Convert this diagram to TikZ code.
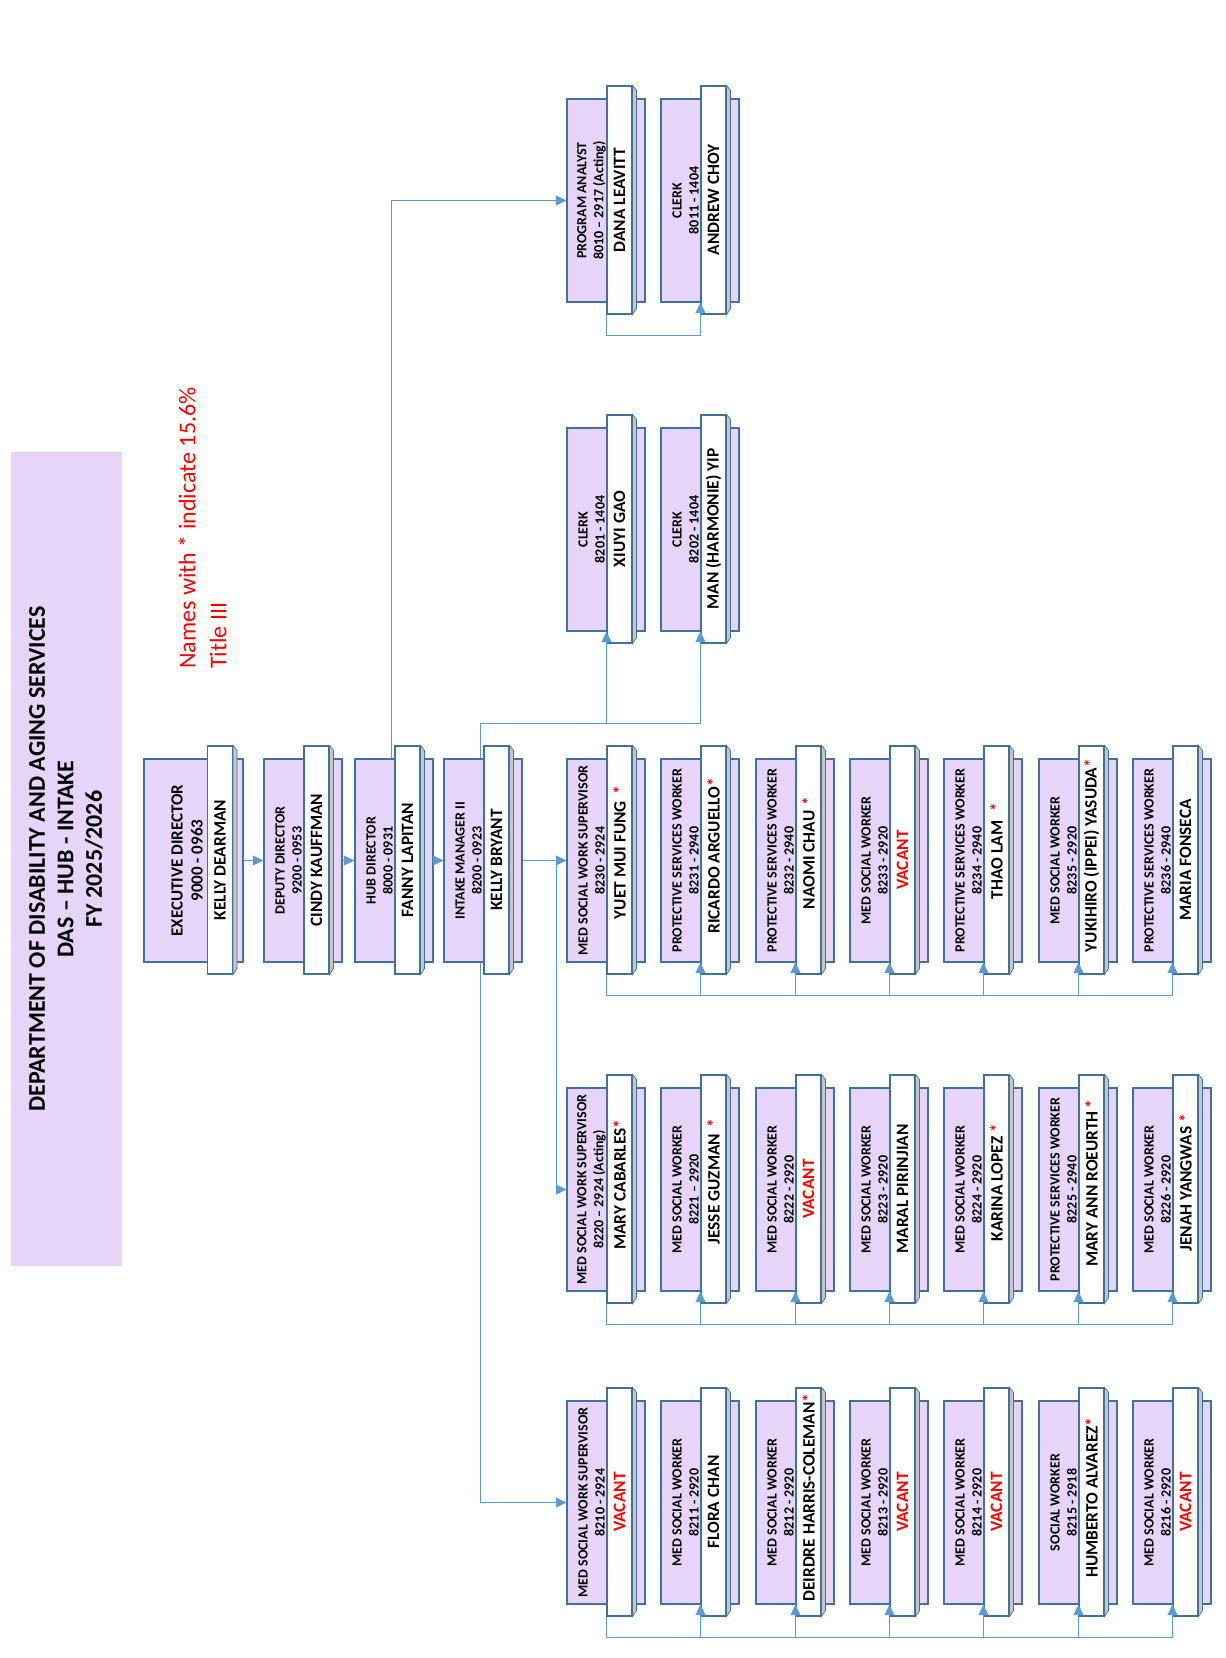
\documentclass[tikz,border=0pt]{standalone}
\usepackage{fontspec}
\setmainfont{Carlito}
\usepackage{xcolor}
\usepackage{graphicx}
\usetikzlibrary{arrows.meta}

\definecolor{slotfill}{RGB}{230,213,248}
\definecolor{slotline}{RGB}{65,113,156}
\definecolor{linkblue}{RGB}{91,155,213}

\tikzset{
  slot/.style={draw=slotline, fill=slotfill, line width=0.8pt, minimum width=58.5pt, minimum height=152.25pt, inner sep=0pt},
  namebox/.style={draw=slotline, fill=white, line width=0.8pt, minimum width=18.75pt, minimum height=171pt, inner sep=0pt, font=\bfseries\fontsize{13}{15}\selectfont},
  bevel/.style={draw=slotline, fill=gray!45, line width=0.5pt},
  jobtext/.style={rotate=90, align=center, inner sep=0pt, font=\bfseries\fontsize{10.5}{12.75}\selectfont},
  link/.style={draw=linkblue, line width=0.9pt},
  arr/.style={link, -{Triangle[length=8pt,width=7.5pt]}},
}

% one position: name, left, top, job title, position code, person
\newcommand{\posbox}[6]{%
  \node[slot] (#1) at (#2+39,#3+101.5) {};
  \node[namebox] (#1-n) at (#2+52.5,#3+101) {\rotatebox{90}{#6}};
  \draw[bevel] (#1-n.north east) -- ++(4,5) -- ++(0,218) -- (#1-n.south east) -- cycle;
  \node[jobtext] at (#2+24.5,#3+101.5) {#4\\#5};
}
\newcommand{\vac}{\textcolor{red}{VACANT}}
\newcommand{\tstar}[1][0pt]{\rlap{\hspace{#1}\textcolor{red}{*}}}

\begin{document}
\begin{tikzpicture}[x=0.75pt,y=0.75pt,yscale=-1,xscale=1]
\useasboundingbox (0,0) rectangle (1225,1658);

%Title block
\node[rotate=90, fill=slotfill, minimum width=610.5pt, minimum height=83.25pt, align=center, inner sep=0pt, font=\bfseries\fontsize{18}{21.4}\selectfont] (heading) at (66,859) {DEPARTMENT OF DISABILITY AND AGING SERVICES\\DAS – HUB - INTAKE\\FY 2025/2026};
%Note
\node[rotate=90, anchor=north west, align=left, inner sep=0pt, text=red, font=\fontsize{18}{23.25}\selectfont] (note) at (178,669) {Names with * indicate 15.6\%\\Title III};

%Executive director
\node[slot, minimum width=74.25pt] (exec) at (193.5,860.5) {};
\node[namebox] (exec-n) at (220,860) {\rotatebox{90}{KELLY DEARMAN}};
\draw[bevel] (exec-n.north east) -- ++(4,5) -- ++(0,218) -- (exec-n.south east) -- cycle;
\node[jobtext, font=\bfseries\fontsize{12.75}{15}\selectfont] at (187,860.5) {EXECUTIVE DIRECTOR\\9000 - 0963};

%Chain of command
\posbox{dep}{264}{759}{DEPUTY DIRECTOR}{9200 - 0953}{CINDY KAUFFMAN}
\posbox{hub}{355}{759}{HUB DIRECTOR}{8000 - 0931}{FANNY LAPITAN}
\posbox{im}{444}{759}{INTAKE MANAGER II}{8200 - 0923}{KELLY BRYANT}

%Program analyst and clerks
\posbox{pa}{567}{99}{PROGRAM ANALYST}{8010 – 2917 (Acting)}{DANA LEAVITT}
\posbox{ck0}{661}{99}{CLERK}{8011 - 1404}{ANDREW CHOY}
\posbox{ck1}{567}{428}{CLERK}{8201 - 1404}{XIUYI GAO}
\posbox{ck2}{661}{428}{CLERK}{8202 - 1404}{MAN (HARMONIE) YIP}

%Unit 8230
\posbox{a1}{567}{759}{MED SOCIAL WORK SUPERVISOR}{8230 - 2924}{YUET MUI FUNG\tstar[5pt]}
\posbox{a2}{661}{759}{PROTECTIVE SERVICES WORKER}{8231 - 2940}{RICARDO ARGUELLO\tstar}
\posbox{a3}{756}{759}{PROTECTIVE SERVICES WORKER}{8232 - 2940}{NAOMI CHAU\tstar[4pt]}
\posbox{a4}{850}{759}{MED SOCIAL WORKER}{8233 - 2920}{\vac}
\posbox{a5}{944}{759}{PROTECTIVE SERVICES WORKER}{8234 - 2940}{THAO LAM\tstar[7pt]}
\posbox{a6}{1039}{759}{MED SOCIAL WORKER}{8235 - 2920}{YUKIHIRO (IPPEI) YASUDA\tstar}
\posbox{a7}{1133}{759}{PROTECTIVE SERVICES WORKER}{8236 - 2940}{MARIA FONSECA}

%Unit 8220
\posbox{b1}{567}{1088}{MED SOCIAL WORK SUPERVISOR}{8220 – 2924 (Acting)}{MARY CABARLES\tstar}
\posbox{b2}{661}{1088}{MED SOCIAL WORKER}{8221 – 2920}{JESSE GUZMAN\tstar[5pt]}
\posbox{b3}{756}{1088}{MED SOCIAL WORKER}{8222 - 2920}{\vac}
\posbox{b4}{850}{1088}{MED SOCIAL WORKER}{8223 - 2920}{MARAL PIRINJIAN}
\posbox{b5}{944}{1088}{MED SOCIAL WORKER}{8224 - 2920}{KARINA LOPEZ\tstar[3pt]}
\posbox{b6}{1039}{1088}{PROTECTIVE SERVICES WORKER}{8225 - 2940}{MARY ANN ROEURTH\tstar[2pt]}
\posbox{b7}{1133}{1088}{MED SOCIAL WORKER}{8226 - 2920}{JENAH YANGWAS\tstar[3pt]}

%Unit 8210
\posbox{c1}{567}{1401}{MED SOCIAL WORK SUPERVISOR}{8210 - 2924}{\vac}
\posbox{c2}{661}{1401}{MED SOCIAL WORKER}{8211 - 2920}{FLORA CHAN}
\posbox{c3}{756}{1401}{MED SOCIAL WORKER}{8212 - 2920}{DEIRDRE HARRIS-COLEMAN\tstar}
\posbox{c4}{850}{1401}{MED SOCIAL WORKER}{8213 - 2920}{\vac}
\posbox{c5}{944}{1401}{MED SOCIAL WORKER}{8214 - 2920}{\vac}
\posbox{c6}{1039}{1401}{SOCIAL WORKER}{8215 - 2918}{HUMBERTO ALVAREZ\tstar}
\posbox{c7}{1133}{1401}{MED SOCIAL WORKER}{8216 - 2920}{\vac}

%Connectors
\draw[arr] (exec.east) -- (dep.west);
\draw[arr] (dep.east) -- (hub.west);
\draw[arr] (hub.east) -- (im.west);
\draw[arr] (hub-n.west |- hub.north) ++(-3,0) |- (pa.west);
\draw[arr] (pa-n.south west) -- ++(0,21) -| (ck0-n.west |- ck0.south);
\path (im.north) ++(0,-35) coordinate (ckbus);
\draw[arr] (im-n.west |- im.north) ++(-3,0) |- (ck2-n.west |- ckbus) -- (ck2-n.west |- ck2.south);
\draw[arr] (ck1-n.west |- ckbus) -- (ck1-n.west |- ck1.south);
\draw[arr] (im.east) -- (a1.west);
\draw[arr] (a1.west) ++(-10,0) |- (b1.west);
\draw[arr] (im-n.west |- im.south) ++(-3,0) |- (c1.west);

\draw[arr] (a1-n.south west) -- ++(0,21) coordinate (abus) -| (a7-n.west |- a7.south);
\draw[arr] (a2-n.west |- abus) -- (a2-n.west |- a2.south);
\draw[arr] (a3-n.west |- abus) -- (a3-n.west |- a3.south);
\draw[arr] (a4-n.west |- abus) -- (a4-n.west |- a4.south);
\draw[arr] (a5-n.west |- abus) -- (a5-n.west |- a5.south);
\draw[arr] (a6-n.west |- abus) -- (a6-n.west |- a6.south);

\draw[arr] (b1-n.south west) -- ++(0,21) coordinate (bbus) -| (b7-n.west |- b7.south);
\draw[arr] (b2-n.west |- bbus) -- (b2-n.west |- b2.south);
\draw[arr] (b3-n.west |- bbus) -- (b3-n.west |- b3.south);
\draw[arr] (b4-n.west |- bbus) -- (b4-n.west |- b4.south);
\draw[arr] (b5-n.west |- bbus) -- (b5-n.west |- b5.south);
\draw[arr] (b6-n.west |- bbus) -- (b6-n.west |- b6.south);

\draw[arr] (c1-n.south west) -- ++(0,21) coordinate (cbus) -| (c7-n.west |- c7.south);
\draw[arr] (c2-n.west |- cbus) -- (c2-n.west |- c2.south);
\draw[arr] (c3-n.west |- cbus) -- (c3-n.west |- c3.south);
\draw[arr] (c4-n.west |- cbus) -- (c4-n.west |- c4.south);
\draw[arr] (c5-n.west |- cbus) -- (c5-n.west |- c5.south);
\draw[arr] (c6-n.west |- cbus) -- (c6-n.west |- c6.south);

\end{tikzpicture}
\end{document}
